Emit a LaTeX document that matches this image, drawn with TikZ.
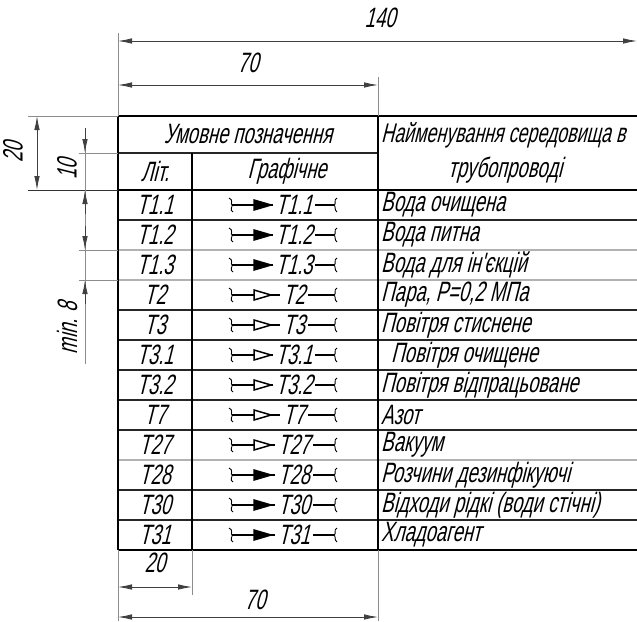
\documentclass[tikz,border=0pt]{standalone}
\usepackage{fontspec}
\setmainfont{Liberation Sans}
\newfontfamily\gost{Liberation Sans}[FakeSlant=0.25,FakeStretch=0.66]
\usetikzlibrary{arrows.meta}
\begin{document}
\begin{tikzpicture}[x=1pt,y=-1pt,
  every node/.style={font=\gost\fontsize{28}{32}\selectfont, inner sep=0pt},
  thickline/.style={line width=2.6pt, black},
  rowline/.style={line width=1.6pt, black!85},
  lightrow/.style={line width=1.2pt, black!30},
  extline/.style={line width=0.6pt, black!45},
  dimline/.style={line width=0.8pt, black!75},
  dimarrows/.style={dimline, {Latex[length=14pt,width=5.5pt]}-{Latex[length=14pt,width=5.5pt]}},
  onearrow/.style={dimline, -{Latex[length=14pt,width=5.5pt]}},
  symline/.style={line width=1.5pt, black},
  symtext/.style={fill=white, inner xsep=3pt, inner ysep=0pt},
  cell/.style={anchor=center},
  namecell/.style={anchor=west}
]
\useasboundingbox (0,0) rectangle (637,621);

% ---------- table grid ----------
\coordinate (TL) at (118,116);
\coordinate (TR) at (637,116);
\draw[thickline] (TL) -- (TR);
\draw[rowline] (118,153) -- (378,153);
\draw[thickline] (118,190) -- (637,190);
\foreach \k in {1,4,5,6,7,8,10,11} {
  \draw[rowline] (118,190+30*\k) -- (637,190+30*\k);
}
\foreach \k in {2,3,9} {
  \draw[lightrow] (118,190+30*\k) -- (637,190+30*\k);
}
\draw[thickline] (118,550) -- (637,550);
\draw[thickline] (118,116) -- (118,550);
\draw[thickline] (192,153) -- (192,550);
\draw[thickline] (378,116) -- (378,550);

% ---------- header texts ----------
\node[cell] (h1) at (248,134) {Умовне позначення};
\node[cell] (h2) at (155,171) {Літ.};
\node[cell] (h3) at (287,171) {Графічне};
\node[anchor=west, font=\gost\fontsize{27}{32}\selectfont] (h4) at (381,135) {Найменування середовища в};
\node[cell] (h5) at (505,170) {трубопроводі};

% ---------- rows ----------
\foreach \lit/\fill/\name [count=\i] in {
  T1.1/black/{Вода очищена},
  T1.2/black/{Вода питна},
  T1.3/black/{Вода для ін'єкцій},
  T2/white/{Пара, Р=0,2 МПа},
  T3/white/{Повітря стиснене},
  T3.1/white/{\hspace*{10pt}Повітря очищене},
  T3.2/white/{Повітря відпрацьоване},
  T7/white/{Азот},
  T27/white/{Вакуум},
  T28/black/{Розчини дезинфікуючі},
  T30/black/{Відходи рідкі (води стічні)},
  T31/black/{Хладоагент}} {
  \pgfmathsetmacro\yc{190+30*\i-15}
  \node[cell] (lit\i) at (155,\yc) {\lit};
  \node[namecell] (nm\i) at (381,\yc) {\name};
  \coordinate (pl\i) at (232,\yc);
  \coordinate (pr\i) at (334,\yc);
  \draw[symline] (pl\i) -- (pr\i);
  \draw[symline, fill=\fill, line join=miter] (254,\yc-5) -- (271,\yc) -- (254,\yc+5) -- cycle;
  \node[symtext] (sym\i) at (294,\yc) {\lit};
  \draw[line width=0.9pt] (229,\yc-7) .. controls (234,\yc-5) and (230,\yc-1) .. (pl\i)
        .. controls (233,\yc+1) and (229,\yc+5) .. (233,\yc+7);
  \draw[line width=0.9pt] (pr\i) .. controls (337,\yc-1) and (333,\yc-5) .. (337,\yc-7);
  \draw[line width=0.9pt] (pr\i) .. controls (336,\yc+1) and (334,\yc+5) .. (337,\yc+7);
}

% ---------- top dimensions ----------
\coordinate (e1t) at (118,33);
\coordinate (e1b) at (118,116);
\coordinate (e2t) at (378,77);
\coordinate (e2b) at (378,116);
\draw[extline] (e1t) -- (e1b);
\draw[extline] (e2t) -- (e2b);
\coordinate (d140a) at (118,41);
\coordinate (d140b) at (637,41);
\draw[dimarrows] (d140a) -- (d140b);
\node (t140) at (380,18) {140};
\coordinate (d70a) at (118,85);
\coordinate (d70b) at (378,85);
\draw[dimarrows] (d70a) -- (d70b);
\node (t70) at (248,63) {70};

% ---------- left dimensions ----------
\coordinate (x1a) at (28,116);
\coordinate (x2a) at (28,190);
\coordinate (x2b) at (118,190);
\draw[extline] (x1a) -- (TL);
\draw[line width=1pt, black!80] (x2a) -- (x2b);
\coordinate (d20a) at (37,116);
\coordinate (d20b) at (37,190);
\draw[dimarrows] (d20a) -- (d20b);
\node[rotate=90] (t20) at (13,152) {20};

\coordinate (x3a) at (79,153);
\coordinate (x3b) at (118,153);
\draw[extline] (x3a) -- (x3b);
\coordinate (x4a) at (79,250);
\coordinate (x4b) at (118,250);
\draw[extline] (x4a) -- (x4b);
\coordinate (x5a) at (79,280);
\coordinate (x5b) at (118,280);
\draw[extline] (x5a) -- (x5b);

\coordinate (v0) at (85,128);
\coordinate (v1) at (85,153);
\coordinate (v2) at (85,190);
\coordinate (v2b) at (85,214);
\coordinate (v3a) at (85,226);
\coordinate (v3) at (85,250);
\coordinate (v4) at (85,280);
\coordinate (v5) at (85,364);
\draw[extline] (v0) -- (v5);
\draw[onearrow] (v0) -- (v1);
\draw[onearrow] (v2b) -- (v2);
\draw[onearrow] (v3a) -- (v3);
\draw[onearrow] (85,304) -- (v4);
\node[rotate=90] (t10) at (67,169) {10};
\node[rotate=90] (tmin) at (67,328) {min. 8};

% ---------- bottom dimensions ----------
\coordinate (b1t) at (118,550);
\coordinate (b1b) at (118,621);
\coordinate (b2t) at (192,550);
\coordinate (b2b) at (192,595);
\coordinate (b3t) at (378,550);
\coordinate (b3b) at (378,621);
\draw[extline] (b1t) -- (b1b);
\draw[extline] (b2t) -- (b2b);
\draw[extline] (b3t) -- (b3b);
\coordinate (db20a) at (118,587);
\coordinate (db20b) at (192,587);
\draw[dimarrows] (db20a) -- (db20b);
\node (tb20) at (155,563) {20};
\coordinate (db70a) at (118,617);
\coordinate (db70b) at (378,617);
\draw[dimarrows] (db70a) -- (db70b);
\node (tb70) at (255,600) {70};
\end{tikzpicture}
\end{document}
